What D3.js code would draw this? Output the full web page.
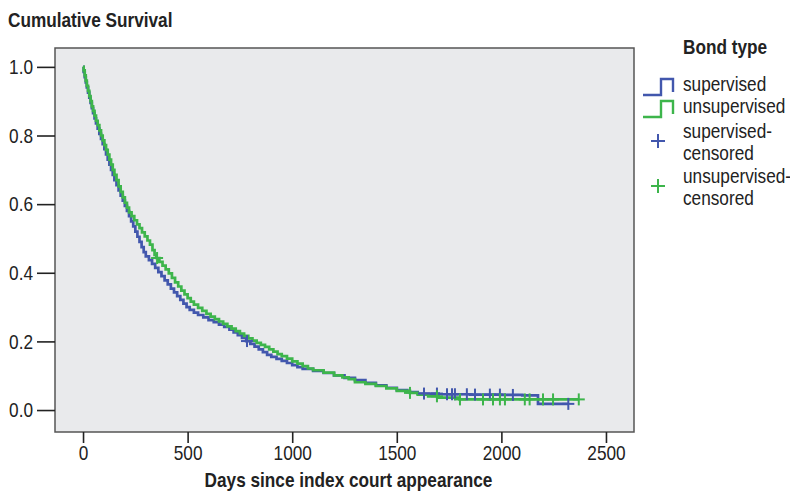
<!DOCTYPE html>
<html>
<head>
<meta charset="utf-8">
<script src="https://cdn.jsdelivr.net/npm/d3@7"></script>
<style>
  body { margin: 0; background: #fff; }
  text { font-family: "Liberation Sans Narrow", "Arial Narrow", "Liberation Sans", sans-serif; fill: #222; }
</style>
</head>
<body>
<div id="chart"></div>
<script>
// Kaplan-Meier estimates (days, cumulative survival)
var supTime = [0, 3, 8, 13, 18, 24, 30, 36, 42, 48, 55, 62, 70, 78, 86, 94, 102, 110, 118, 126, 134, 142, 150, 160,
  170, 180, 190, 200, 210, 220, 230, 240, 250, 260, 270, 280, 290, 300, 315, 330, 345, 360, 375, 390, 405, 420, 435,
  450, 465, 480, 495, 510, 530, 550, 575, 600, 625, 650, 675, 700, 720, 740, 760, 780, 800, 820, 840, 860, 880, 900,
  925, 950, 975, 1000, 1025, 1050, 1100, 1150, 1200, 1250, 1300, 1350, 1400, 1450, 1500, 1550, 1600, 1700, 1850,
  2000, 2100, 2175, 2320];
var supSurv = [1.0, 0.985, 0.97, 0.955, 0.94, 0.925, 0.91, 0.895, 0.88, 0.865, 0.85, 0.835, 0.82, 0.805, 0.79, 0.775,
  0.76, 0.745, 0.73, 0.715, 0.70, 0.685, 0.67, 0.655, 0.64, 0.625, 0.61, 0.595, 0.58, 0.565, 0.55, 0.535, 0.52,
  0.505, 0.49, 0.475, 0.46, 0.448, 0.437, 0.426, 0.414, 0.402, 0.39, 0.378, 0.366, 0.354, 0.343, 0.332, 0.321, 0.31,
  0.30, 0.292, 0.284, 0.277, 0.27, 0.262, 0.256, 0.249, 0.242, 0.234, 0.226, 0.218, 0.21, 0.201, 0.193, 0.185,
  0.177, 0.169, 0.161, 0.155, 0.149, 0.143, 0.137, 0.131, 0.125, 0.12, 0.114, 0.108, 0.101, 0.094, 0.087, 0.079,
  0.072, 0.065, 0.058, 0.052, 0.048, 0.046, 0.045, 0.044, 0.043, 0.018, 0.018];
var unsTime = [0, 3, 8, 13, 18, 24, 30, 36, 42, 48, 55, 62, 70, 78, 86, 94, 102, 110, 118, 126, 134, 142, 150, 160,
  170, 180, 190, 200, 210, 220, 232, 245, 258, 270, 282, 295, 308, 320, 332, 342, 350, 365, 380, 395, 410, 425, 440,
  455, 470, 485, 500, 515, 530, 550, 570, 590, 610, 630, 650, 670, 690, 710, 730, 750, 770, 790, 810, 830, 850, 870,
  890, 910, 930, 950, 975, 1000, 1025, 1050, 1075, 1100, 1150, 1200, 1240, 1270, 1300, 1350, 1400, 1450, 1500,
  1563, 1600, 1650, 1700, 1800, 2370];
var unsSurv = [1.0, 0.99, 0.975, 0.96, 0.945, 0.93, 0.915, 0.90, 0.885, 0.872, 0.858, 0.843, 0.83, 0.815, 0.80,
  0.786, 0.772, 0.758, 0.744, 0.73, 0.715, 0.70, 0.685, 0.67, 0.652, 0.636, 0.62, 0.604, 0.59, 0.576, 0.565, 0.553,
  0.541, 0.53, 0.518, 0.506, 0.494, 0.482, 0.466, 0.452, 0.443, 0.432, 0.421, 0.41, 0.398, 0.385, 0.372, 0.36,
  0.348, 0.337, 0.326, 0.316, 0.307, 0.298, 0.289, 0.28, 0.272, 0.265, 0.258, 0.251, 0.244, 0.237, 0.23, 0.223,
  0.216, 0.209, 0.202, 0.196, 0.19, 0.184, 0.177, 0.17, 0.163, 0.157, 0.15, 0.142, 0.135, 0.128, 0.121, 0.116,
  0.109, 0.101, 0.095, 0.09, 0.081, 0.076, 0.07, 0.063, 0.056, 0.05, 0.045, 0.04, 0.036, 0.031, 0.031];
var supCensor = [784, 1630, 1692, 1740, 1764, 1778, 1835, 1874, 1945, 1993, 2055, 2320];
var unsCensor = [354, 1563, 1692, 1802, 1912, 1960, 1993, 2017, 2112, 2135, 2199, 2247, 2370];

var xTicks = [0, 500, 1000, 1500, 2000, 2500];
var yTicks = [0.0, 0.2, 0.4, 0.6, 0.8, 1.0];
var seriesNames = ["supervised", "unsupervised"];

var width = 790, height = 492
  , frame = { left: 55, top: 48, right: 634, bottom: 432 }
  , colors = ["#4257ad", "#3db54b"]
  , fontSize = 21
  , narrow = 0.82; // squeeze text horizontally, no narrow font installed

var xScale = d3.scaleLinear().domain([-134, 2634]).range([frame.left, frame.right]);
var yScale = d3.scaleLinear().domain([-0.064, 1.055]).range([frame.bottom, frame.top]);

function condense(sel) {
  sel.each(function() {
    var t = d3.select(this);
    var x = +t.attr("x") || 0, y = +t.attr("y") || 0;
    t.attr("x", 0).attr("y", 0)
      .attr("transform", "translate(" + x + "," + y + ") scale(" + narrow + ",1)");
  });
}

var svg = d3.select("#chart").append("svg")
  .attr("width", width)
  .attr("height", height);

svg.append("rect")
  .attr("x", frame.left)
  .attr("y", frame.top)
  .attr("width", frame.right - frame.left)
  .attr("height", frame.bottom - frame.top)
  .style("fill", "#e9eaec")
  .style("stroke", "#555")
  .style("stroke-width", 1.5);

var yAxis = d3.axisLeft(yScale).tickValues(yTicks).tickSize(18).tickPadding(4).tickFormat(d3.format(".1f"));
var xAxis = d3.axisBottom(xScale).tickValues(xTicks).tickSize(11).tickPadding(2).tickFormat(d3.format("d"));

var gy = svg.append("g")
  .attr("transform", "translate(" + frame.left + ",0)")
  .call(yAxis);
var gx = svg.append("g")
  .attr("transform", "translate(0," + frame.bottom + ")")
  .call(xAxis);

[gx, gy].forEach(function(g) {
  g.select(".domain").remove();
  g.selectAll(".tick line").style("stroke", "#222").style("stroke-width", 1.6);
  g.selectAll(".tick text").style("font-size", fontSize + "px").style("font-family", null);
  g.selectAll(".tick text").call(condense);
});

svg.append("text")
  .attr("x", 8)
  .attr("y", 27)
  .style("font-size", fontSize + "px")
  .style("font-weight", "bold")
  .text("Cumulative Survival")
  .call(condense);

svg.append("text")
  .attr("x", (frame.left + frame.right) / 2 + 4)
  .attr("y", 487)
  .attr("text-anchor", "middle")
  .style("font-size", fontSize + "px")
  .style("font-weight", "bold")
  .text("Days since index court appearance")
  .call(condense);

// step curves
function stepData(times, surv) {
  return times.map(function(t, i) { return { t: t, s: surv[i] }; });
}
function survAt(times, surv, t) {
  var i = d3.bisectRight(times, t) - 1;
  return surv[Math.max(i, 0)];
}

var line = d3.line()
  .x(function(d) { return xScale(d.t); })
  .y(function(d) { return yScale(d.s); })
  .curve(d3.curveStepAfter);

var series = [
  { name: seriesNames[0], times: supTime, surv: supSurv, censor: supCensor, color: colors[0] },
  { name: seriesNames[1], times: unsTime, surv: unsSurv, censor: unsCensor, color: colors[1] }
];

series.forEach(function(s) {
  svg.append("path")
    .datum(stepData(s.times, s.surv))
    .attr("d", line)
    .style("fill", "none")
    .style("stroke", s.color)
    .style("stroke-width", 2.7);
});

var cs = 6;
series.forEach(function(s) {
  var g = svg.append("g").style("stroke", s.color).style("stroke-width", 2);
  s.censor.forEach(function(t) {
    var cx = xScale(t), cy = yScale(survAt(s.times, s.surv, t));
    g.append("line").attr("x1", cx - cs).attr("x2", cx + cs).attr("y1", cy).attr("y2", cy);
    g.append("line").attr("x1", cx).attr("x2", cx).attr("y1", cy - cs).attr("y2", cy + cs);
  });
});

// legend
var legend = svg.append("g").attr("transform", "translate(643,0)");
legend.append("text")
  .attr("x", 40)
  .attr("y", 54)
  .style("font-size", fontSize + "px")
  .style("font-weight", "bold")
  .text("Bond type")
  .call(condense);

var stepIcon = [[0, 16], [18, 16], [18, 0], [30, 0], [30, 13]];
series.forEach(function(s, i) {
  var y0 = 79 + i * 22;
  legend.append("path")
    .attr("d", d3.line()(stepIcon.map(function(p) { return [p[0], y0 + p[1]]; })))
    .style("fill", "none")
    .style("stroke", s.color)
    .style("stroke-width", 2.4);
  legend.append("text")
    .attr("x", 40)
    .attr("y", y0 + 5)
    .attr("dy", "0.35em")
    .style("font-size", fontSize + "px")
    .text(s.name)
    .call(condense);
});

series.forEach(function(s, i) {
  var cy = 141 + i * 45;
  var g = legend.append("g").style("stroke", s.color).style("stroke-width", 2);
  g.append("line").attr("x1", 8).attr("x2", 22).attr("y1", cy).attr("y2", cy);
  g.append("line").attr("x1", 15).attr("x2", 15).attr("y1", cy - 7).attr("y2", cy + 7);
  legend.append("text")
    .attr("x", 40)
    .attr("y", cy - 10)
    .attr("dy", "0.35em")
    .style("font-size", fontSize + "px")
    .text(s.name + "-")
    .call(condense);
  legend.append("text")
    .attr("x", 40)
    .attr("y", cy + 12)
    .attr("dy", "0.35em")
    .style("font-size", fontSize + "px")
    .text("censored")
    .call(condense);
});
</script>
</body>
</html>
